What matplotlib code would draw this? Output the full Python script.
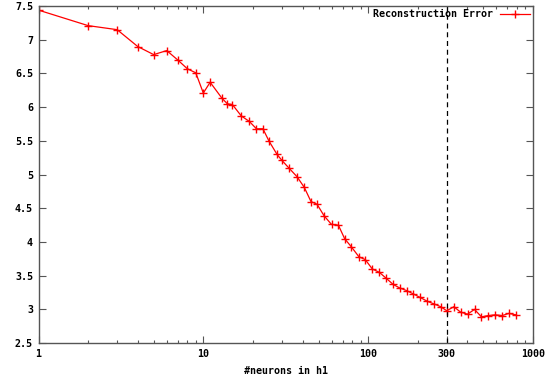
import matplotlib
matplotlib.use('Agg')
import matplotlib.pyplot as plt
from matplotlib.ticker import FixedLocator, FixedFormatter, NullFormatter

# 데이터
neurons = [1, 2, 3, 4, 5, 6, 7, 8, 9, 10, 11, 13, 14, 15, 17, 19, 21, 23, 25, 28,
           30, 33, 37, 41, 45, 49, 54, 60, 66, 72, 79, 88, 96,
           106, 117, 129, 142, 155, 171, 188, 206, 229, 252, 276, 300,
           331, 364, 401, 442, 487, 537, 590, 651, 713, 791]
recon_error = [7.44, 7.21, 7.15, 6.90, 6.78, 6.84, 6.70, 6.57, 6.51, 6.21, 6.37, 6.13, 6.05, 6.04, 5.87, 5.79, 5.68, 5.68, 5.50, 5.30,
               5.21, 5.10, 4.97, 4.81, 4.60, 4.56, 4.39, 4.26, 4.25, 4.05, 3.93, 3.78, 3.74,
               3.60, 3.55, 3.46, 3.37, 3.32, 3.28, 3.23, 3.18, 3.12, 3.08, 3.04, 2.98,
               3.04, 2.96, 2.93, 3.00, 2.89, 2.91, 2.92, 2.91, 2.94, 2.92]
cut_x = 300

x_ticks = [1, 10, 100, 300, 1000]
x_ticklabels = ['1', '10', '100', '300', '1000']
y_ticks = [2.5, 3, 3.5, 4, 4.5, 5, 5.5, 6, 6.5, 7, 7.5]
y_ticklabels = ['2.5', '3', '3.5', '4', '4.5', '5', '5.5', '6', '6.5', '7', '7.5']

font = {'family': 'DejaVu Sans Mono', 'weight': 'bold', 'size': 7.2}
border = '#555555'

fig = plt.figure(figsize=(5.5, 3.8), dpi=100)
ax = fig.add_axes([0.070, 0.097, 0.899, 0.887])

ax.plot(neurons, recon_error, color='red', lw=0.9, marker='+', ms=6, mew=1.0,
        label='Reconstruction Error')
ax.axvline(cut_x, color='black', lw=0.9, ls=(0, (4, 3)))

ax.set_xscale('log')
ax.set_xlim(1, 1000)
ax.set_ylim(2.5, 7.5)

ax.xaxis.set_major_locator(FixedLocator(x_ticks))
ax.xaxis.set_major_formatter(FixedFormatter(x_ticklabels))
minor = [m * 10 ** d for d in range(3) for m in range(2, 10)]
ax.xaxis.set_minor_locator(FixedLocator(minor))
ax.xaxis.set_minor_formatter(NullFormatter())
ax.set_yticks(y_ticks)
ax.set_yticklabels(y_ticklabels)

ax.tick_params(axis='both', which='both', direction='in', top=True, right=True,
               colors=border, labelcolor='black', width=0.8)
ax.tick_params(which='major', length=5, pad=4)
ax.tick_params(which='minor', length=2.5)
for lab in ax.get_xticklabels() + ax.get_yticklabels():
    lab.set_fontproperties(font)
for s in ax.spines.values():
    s.set_color(border)
    s.set_linewidth(1.0)

ax.set_xlabel('#neurons in h1', fontdict=font, labelpad=5)

leg = ax.legend(loc='upper right', frameon=False, markerfirst=False,
                prop=font, handlelength=3, borderaxespad=0.0, handletextpad=0.7,
                borderpad=0.3)

fig.savefig('out.png', dpi=100)
